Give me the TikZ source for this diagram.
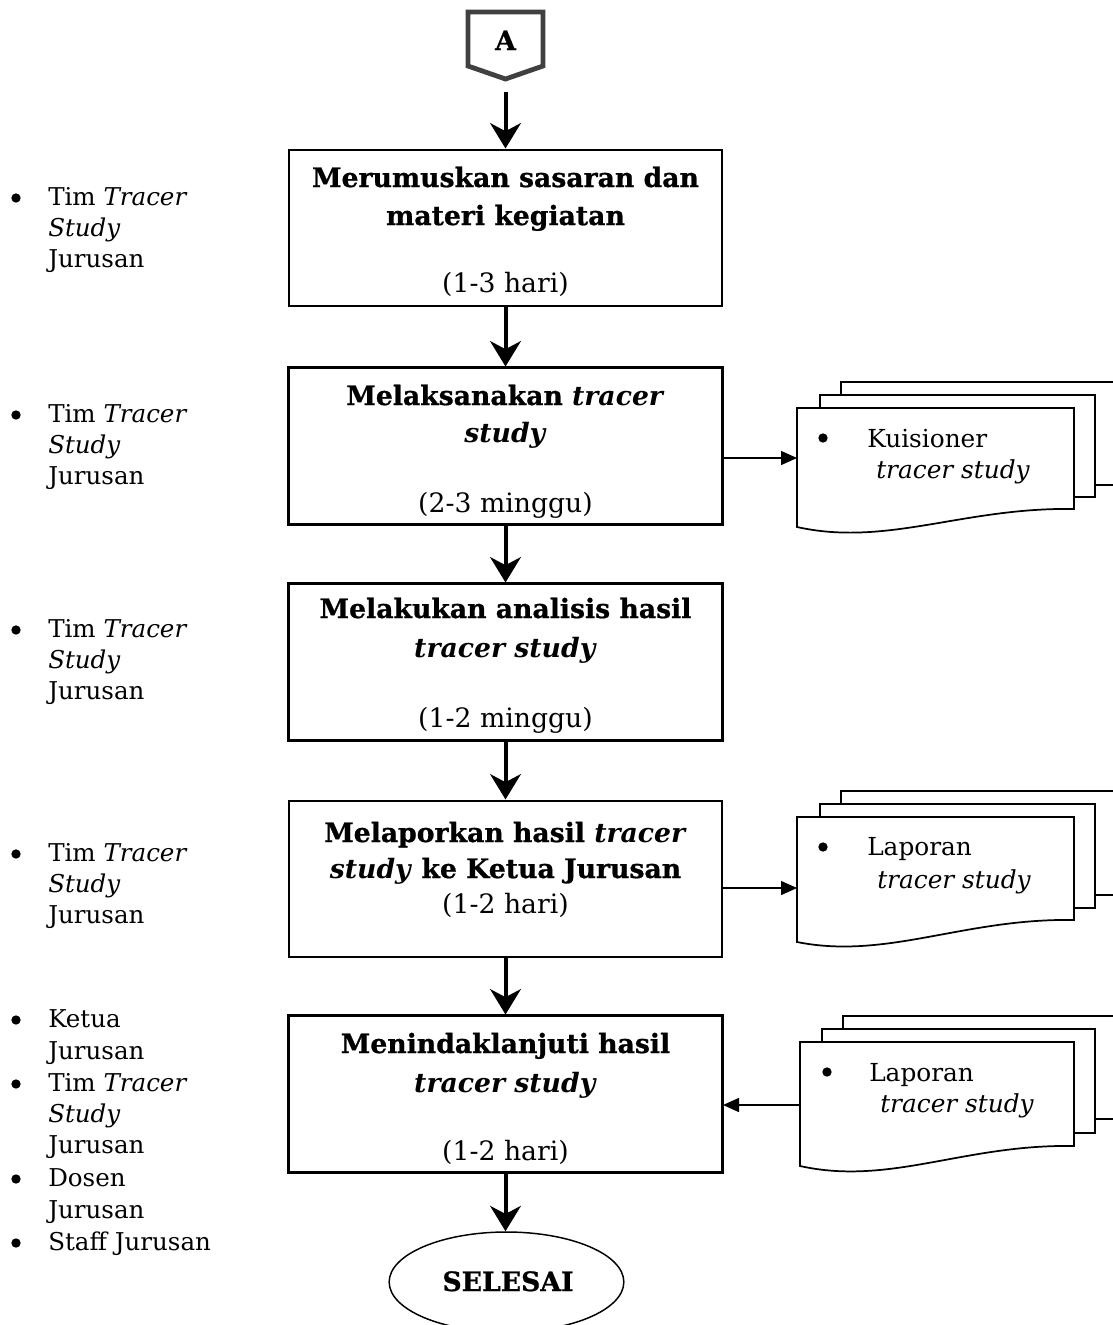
\documentclass[tikz,border=0pt]{standalone}
\usepackage{fontspec}
\setmainfont{DejaVu Serif}[BoldFeatures={FakeBold=0.8}]
\usetikzlibrary{arrows.meta,shapes.geometric}
\tikzset{
  stepbox/.style={draw, line width=1.5pt, fill=white, minimum width=324.75pt, minimum height=117pt, inner sep=0pt},
  btxt/.style={anchor=base, inner sep=0pt, font=\fontsize{20}{24}\selectfont},
  ltxt/.style={anchor=base west, inner sep=0pt, font=\fontsize{18.4}{22}\selectfont},
  dtxt/.style={anchor=base west, inner sep=0pt, font=\fontsize{18.6}{22}\selectfont},
  bul/.style={circle, fill=black, inner sep=0pt, minimum size=7pt},
  sheet/.style={draw, line width=1.3pt, fill=white},
  bigarrow/.style={line width=3pt, -{Stealth[length=19pt, width=23pt, inset=6pt]}},
  thinarrow/.style={line width=1.1pt, -{Triangle[length=12pt, width=10.5pt]}},
}
\begin{document}
\begin{tikzpicture}[x=0.75pt,y=-0.75pt]
\useasboundingbox (0,0) rectangle (1113,1325);
\clip (0,0) rectangle (1113,1325);
\fill[white] (0,0) rectangle (1113,1325);

% off-page connector A
\draw[line width=3.6pt, draw={rgb,255:red,64;green,64;blue,64}, line join=miter]
  (468,12) -- (543,12) -- (543,66) -- (505.5,79) -- (468,66) -- cycle;
\node[anchor=base, inner sep=0pt, font=\fontsize{20}{24}\selectfont\bfseries] (A) at (505.5,50) {A};
\coordinate (Atip) at (505.5,92);

% boxes
\node[stepbox] (b1) at (505.5,227.5) {};
\node[stepbox] (b2) at (505.5,445.5) {};
\node[stepbox] (b3) at (505.5,661.5) {};
\node[stepbox] (b4) at (505.5,878.5) {};
\node[stepbox] (b5) at (505.5,1093.5) {};

% box texts
\node[btxt] (t1a) at (505.5,187) {\textbf{Merumuskan sasaran dan}};
\node[btxt] (t1b) at (505.5,225) {\textbf{materi kegiatan}};
\node[btxt] (t1c) at (505.5,292) {(1-3 hari)};

\node[btxt] (t2a) at (505.5,405) {\textbf{Melaksanakan \textit{tracer}}};
\node[btxt] (t2b) at (505.5,442) {\textbf{\textit{study}}};
\begin{scope}
\clip (b2.north west) rectangle (b2.south east);
\node[btxt] (t2c) at (505.5,512) {(2-3 minggu)};
\end{scope}

\node[btxt] (t3a) at (505.5,618) {\textbf{Melakukan analisis hasil}};
\node[btxt] (t3b) at (505.5,657) {\textbf{\textit{tracer study}}};
\begin{scope}
\clip (b3.north west) rectangle (b3.south east);
\node[btxt] (t3c) at (505.5,727) {(1-2 minggu)};
\end{scope}

\node[btxt] (t4a) at (505.5,842) {\textbf{Melaporkan hasil \textit{tracer}}};
\node[btxt] (t4b) at (505.5,878) {\textbf{\textit{study} ke Ketua Jurusan}};
\node[btxt] (t4c) at (505.5,913) {(1-2 hari)};

\node[btxt] (t5a) at (505.5,1053) {\textbf{Menindaklanjuti hasil}};
\node[btxt] (t5b) at (505.5,1092) {\textbf{\textit{tracer study}}};
\begin{scope}
\clip (b5.north west) rectangle (b5.south east);
\node[btxt] (t5c) at (505.5,1160) {(1-2 hari)};
\end{scope}
\draw[line width=1.5pt] (b2.north west) rectangle (b2.south east);
\draw[line width=1.5pt] (b3.north west) rectangle (b3.south east);
\draw[line width=1.5pt] (b5.north west) rectangle (b5.south east);

% end ellipse
\node[draw, ellipse, line width=1.1pt, minimum width=176pt, minimum height=75pt, inner sep=0pt] (end) at (506.5,1282) {};
\node[anchor=base, inner sep=0pt, font=\fontsize{20}{24}\selectfont\bfseries] (endt) at (508,1291) {SELESAI};

% main flow arrows
\draw[bigarrow] (Atip) -- (b1.north);
\draw[bigarrow] (b1.south) -- (b2.north);
\draw[bigarrow] (b2.south) -- (b3.north);
\draw[bigarrow] (b3.south) -- (b4.north);
\draw[bigarrow] (b4.south) -- (b5.north);
\draw[bigarrow] (b5.south) -- (b5.south |- end.north);

% left labels
\node[bul] (u1) at (16,198) {};
\node[ltxt] (l1a) at (48,205) {Tim \textit{Tracer}};
\node[ltxt] (l1b) at (48,236) {\textit{Study}};
\node[ltxt] (l1c) at (48,267) {Jurusan};

\node[bul] (u2) at (16,415) {};
\node[ltxt] (l2a) at (48,422) {Tim \textit{Tracer}};
\node[ltxt] (l2b) at (48,453) {\textit{Study}};
\node[ltxt] (l2c) at (48,484) {Jurusan};

\node[bul] (u3) at (16,630) {};
\node[ltxt] (l3a) at (48,637) {Tim \textit{Tracer}};
\node[ltxt] (l3b) at (48,668) {\textit{Study}};
\node[ltxt] (l3c) at (48,699) {Jurusan};

\node[bul] (u4) at (16,854) {};
\node[ltxt] (l4a) at (48,861) {Tim \textit{Tracer}};
\node[ltxt] (l4b) at (48,892) {\textit{Study}};
\node[ltxt] (l4c) at (48,923) {Jurusan};

\node[bul] (u5) at (16,1020) {};
\node[ltxt] (l5a) at (48,1027) {Ketua};
\node[ltxt] (l5b) at (48,1059) {Jurusan};
\node[bul] (u6) at (16,1084) {};
\node[ltxt] (l5c) at (48,1091) {Tim \textit{Tracer}};
\node[ltxt] (l5d) at (48,1122) {\textit{Study}};
\node[ltxt] (l5e) at (48,1153) {Jurusan};
\node[bul] (u7) at (16,1179) {};
\node[ltxt] (l5f) at (48,1186) {Dosen};
\node[ltxt] (l5g) at (48,1218) {Jurusan};
\node[bul] (u8) at (16,1243) {};
\node[ltxt] (l5h) at (48,1250) {Staff Jurusan};

% documents 1
\draw[sheet] (841,382) rectangle (1140,485);
\draw[sheet] (820,395) rectangle (1095,497);
\draw[sheet] (797,408) -- (1074,408) -- (1074,509)
  .. controls (964,507) and (887,547) .. (797,527) -- cycle;
\coordinate (d1) at (797,458);
\node[bul] (d1u) at (823,438) {};
\node[dtxt] (d1a) at (867,447) {Kuisioner};
\node[dtxt] (d1b) at (876,478) {\textit{tracer study}};
\draw[thinarrow] (b2.east |- d1) -- (d1);

% documents 2
\draw[sheet] (841,791) rectangle (1140,895);
\draw[sheet] (820,804) rectangle (1095,908);
\draw[sheet] (797,817) -- (1074,817) -- (1074,920)
  .. controls (964,918) and (887,960) .. (797,942) -- cycle;
\coordinate (d2) at (797,888);
\node[bul] (d2u) at (823,847) {};
\node[dtxt] (d2a) at (867,855) {Laporan};
\node[dtxt] (d2b) at (877,888) {\textit{tracer study}};
\draw[thinarrow] (b4.east |- d2) -- (d2);

% documents 3
\draw[sheet] (843,1016) rectangle (1140,1119);
\draw[sheet] (822,1029) rectangle (1095,1133);
\draw[sheet] (800,1042) -- (1074,1042) -- (1074,1146)
  .. controls (964,1144) and (890,1186) .. (800,1166) -- cycle;
\coordinate (d3) at (800,1105);
\node[bul] (d3u) at (827,1072) {};
\node[dtxt] (d3a) at (869,1081) {Laporan};
\node[dtxt] (d3b) at (880,1112) {\textit{tracer study}};
\draw[thinarrow] (d3) -- (b5.east |- d3);
\end{tikzpicture}
\end{document}
